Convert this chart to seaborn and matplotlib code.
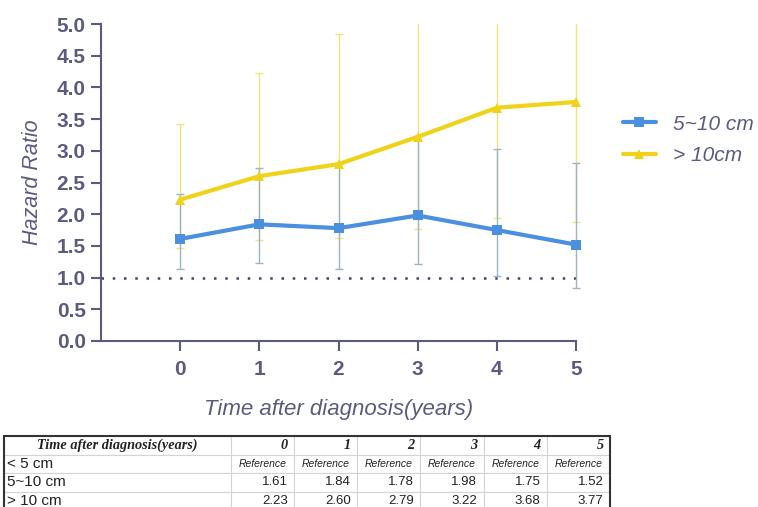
import numpy as np
import pandas as pd
import matplotlib.pyplot as plt
import seaborn as sns

# data
years = [0, 1, 2, 3, 4, 5]
hr_mid = [1.61, 1.84, 1.78, 1.98, 1.75, 1.52]       # 5~10 cm
hr_mid_lo = [1.13, 1.23, 1.14, 1.21, 1.02, 0.83]
hr_mid_hi = [2.32, 2.73, 2.79, 3.24, 3.03, 2.81]
hr_big = [2.23, 2.60, 2.79, 3.22, 3.68, 3.77]       # > 10 cm
hr_big_lo = [1.46, 1.60, 1.62, 1.77, 1.94, 1.88]
hr_big_hi = [3.43, 4.23, 4.84, 5.60, 6.40, 7.00]

series_names = ['5~10 cm', '> 10cm']
row_names = ['< 5 cm', '5~10 cm', '> 10 cm']
table_header = 'Time after diagnosis(years)'

sns.set_style('ticks')
plt.rcParams['font.family'] = ['Liberation Sans', 'DejaVu Sans']

txt = '#5b5b82'
blue = '#4a8fe0'
yellow = '#f0d21a'

df = pd.DataFrame({
    'year': years * 2,
    'hr': hr_mid + hr_big,
    'group': [series_names[0]] * 6 + [series_names[1]] * 6,
})

fig = plt.figure(figsize=(7.58, 5.07), dpi=100)
ax = fig.add_axes([101 / 758, 1 - 341 / 507, 475 / 758, 317 / 507])

# error bars first (thin, pale)
ax.errorbar(years, hr_big, yerr=[np.subtract(hr_big, hr_big_lo), np.subtract(hr_big_hi, hr_big)],
            fmt='none', ecolor='#f2e27a', elinewidth=1.0, capsize=3, capthick=1.0, zorder=1)
ax.errorbar(years, hr_mid, yerr=[np.subtract(hr_mid, hr_mid_lo), np.subtract(hr_mid_hi, hr_mid)],
            fmt='none', ecolor='#9ab6c4', elinewidth=1.0, capsize=3, capthick=1.0, zorder=2)

sns.lineplot(data=df, x='year', y='hr', hue='group', style='group',
             palette={series_names[0]: blue, series_names[1]: yellow},
             markers={series_names[0]: 's', series_names[1]: '^'}, dashes=False,
             linewidth=3, markersize=7, markeredgewidth=0, ax=ax, zorder=3)

ax.axhline(1.0, color='#44446a', linestyle=(0, (1, 3.5)), linewidth=1.8, zorder=0)

ax.set_xlim(-1, 5)
ax.set_ylim(0, 5)

# clip only at top/bottom so the marks at x=5 are not cut in half
clip = plt.Rectangle((-1.2, 0), 6.4, 5, transform=ax.transData, fill=False)
for art in ax.lines + ax.collections:
    art.set_clip_path(clip)

ax.set_xticks(years)
ax.set_yticks(np.arange(0, 5.01, 0.5))
ax.set_yticklabels([f'{v:.1f}' for v in np.arange(0, 5.01, 0.5)])
ax.tick_params(colors=txt, labelsize=15, width=1.5, length=7)
ax.tick_params(axis='x', pad=7)
ax.tick_params(axis='y', pad=4)
for lab in ax.get_xticklabels() + ax.get_yticklabels():
    lab.set_fontweight('bold')
for s in ['left', 'bottom']:
    ax.spines[s].set_color(txt)
    ax.spines[s].set_linewidth(1.5)
sns.despine(ax=ax)

ax.set_xlabel('Time after diagnosis(years)', fontsize=16, style='italic', color=txt, labelpad=14)
ax.set_ylabel('Hazard Ratio', fontsize=15.5, style='italic', color=txt, labelpad=10)

handles, labels = ax.get_legend_handles_labels()
ax.legend_.remove()
leg = fig.legend(handles, labels, loc='center left', bbox_to_anchor=(604 / 758, 1 - 140 / 507),
                 frameon=False, fontsize=15, handlelength=1.6, handletextpad=0.8,
                 labelspacing=0.6)
for t in leg.get_texts():
    t.set_color(txt)
    t.set_style('italic')

# table below the chart
tax = fig.add_axes([4 / 758, -3 / 507, 606 / 758, 74 / 507])
tax.axis('off')
cells = [[table_header] + [str(y) for y in years],
         [row_names[0]] + ['Reference'] * 6,
         [row_names[1]] + [f'{v:.2f}' for v in hr_mid],
         [row_names[2]] + [f'{v:.2f}' for v in hr_big]]
widths = [227 / 606] + [63.2 / 606] * 6
tbl = tax.table(cellText=cells, colWidths=widths, bbox=[0, 0, 1, 1], cellLoc='right')
tbl.auto_set_font_size(False)
for (r, c), cell in tbl.get_celld().items():
    cell.set_edgecolor('#d4d4d4')
    cell.set_linewidth(0.8)
    t = cell.get_text()
    t.set_fontsize(9.5)
    t.set_color('#222222')
    if r == 0:
        t.set_fontfamily('Liberation Serif')
        t.set_fontweight('bold')
        t.set_style('italic')
        t.set_fontsize(10.3)
        t.set_horizontalalignment('center' if c == 0 else 'right')
    elif c == 0:
        t.set_horizontalalignment('left')
        t.set_fontsize(11)
        cell.PAD = 0.015
    elif r == 1:
        t.set_style('italic')
        t.set_fontsize(7.5)
        t.set_horizontalalignment('center')
tax.add_patch(plt.Rectangle((0, 0), 1, 1, transform=tax.transAxes, fill=False,
                            edgecolor='#333333', linewidth=1.5, clip_on=False))

fig.savefig('out.png', dpi=100)
